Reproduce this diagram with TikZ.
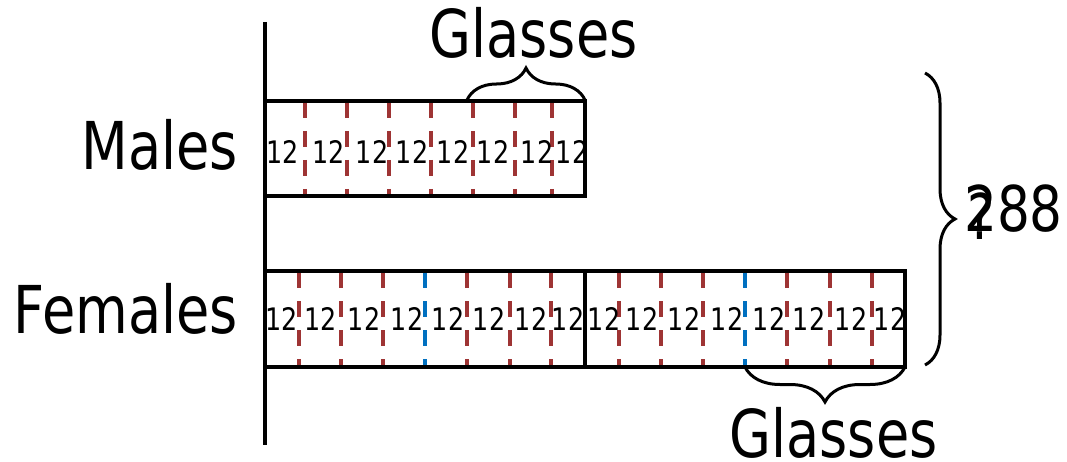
\documentclass[tikz,border=0pt]{standalone}
\usepackage{fontspec}
\setmainfont{DejaVu Sans}[FakeStretch=0.82]
\usetikzlibrary{decorations.pathreplacing}
\definecolor{dashred}{RGB}{158,52,52}
\definecolor{dashblue}{RGB}{0,112,192}
\begin{document}
\begin{tikzpicture}[x=1pt,y=-1pt,
  bigtext/.style={font=\fontsize{66}{70}\selectfont, inner sep=0pt},
  sumtext/.style={font=\fontsize{63}{66}\selectfont, inner sep=0pt},
  numtext/.style={font=\fontsize{31}{33}\selectfont, inner sep=0pt},
  barline/.style={draw=black, line width=4pt},
  axisline/.style={draw=black, line width=3.5pt},
  reddash/.style={draw=dashred, line width=4pt, dash pattern=on 16pt off 13pt},
  bluedash/.style={draw=dashblue, line width=4pt, dash pattern=on 16pt off 13pt},
  bracestyle/.style={draw=black, line width=3pt, decorate, decoration={brace, amplitude=#1}}
]
\useasboundingbox (0,0) rectangle (1067,462);

% axis
\coordinate (axtop) at (265,22);
\coordinate (axbot) at (265,445);
\draw[axisline] (axtop) -- (axbot);

% male dashes
\foreach \x in {305,347,389,431,473,515,552}
  \draw[reddash] (\x,102) -- (\x,196.5);
% female dashes
\foreach \x in {299,341,383,467,510,551,619,661,703,787,830,872}
  \draw[reddash] (\x,272) -- (\x,366.5);
\foreach \x in {425,745}
  \draw[bluedash] (\x,272) -- (\x,366.5);

% bars
\draw[barline] (265,101.5) rectangle (585,196.5);
\draw[barline] (265,271) rectangle (905,366.5);
\draw[barline] (585,271) -- (585,366.5);

% numbers
\foreach \x [count=\i] in {283,329,372,412,453,493,537,572}
  \node[numtext] (m\i) at (\x,151.5) {12};
\foreach \x [count=\i] in {282,321,364,407,448,489,531,568,604,642,684,727,769,809,851,890}
  \node[numtext] (f\i) at (\x,318.5) {12};

% labels
\node[bigtext, anchor=base east] (males) at (238,170) {Males};
\node[bigtext, anchor=base east] (females) at (238,333) {Females};

% braces
\coordinate (tb1) at (467,100);
\coordinate (tb2) at (585,100);
\draw[bracestyle=32pt] (tb1) -- (tb2);
\node[bigtext, anchor=base] (glassestop) at (533.5,58) {Glasses};

\coordinate (bb1) at (905,367);
\coordinate (bb2) at (745,367);
\draw[bracestyle=35pt] (bb1) -- (bb2);
\node[bigtext, anchor=base] (glassesbot) at (833.5,457) {Glasses};

\coordinate (rb1) at (925,73);
\coordinate (rb2) at (925,365);
\draw[bracestyle=30pt] (rb1) -- (rb2);
\node[sumtext, anchor=base west] (total) at (964,232) {288};
\node[sumtext, anchor=base] (qmark) at (981,240) {?};
\end{tikzpicture}
\end{document}
